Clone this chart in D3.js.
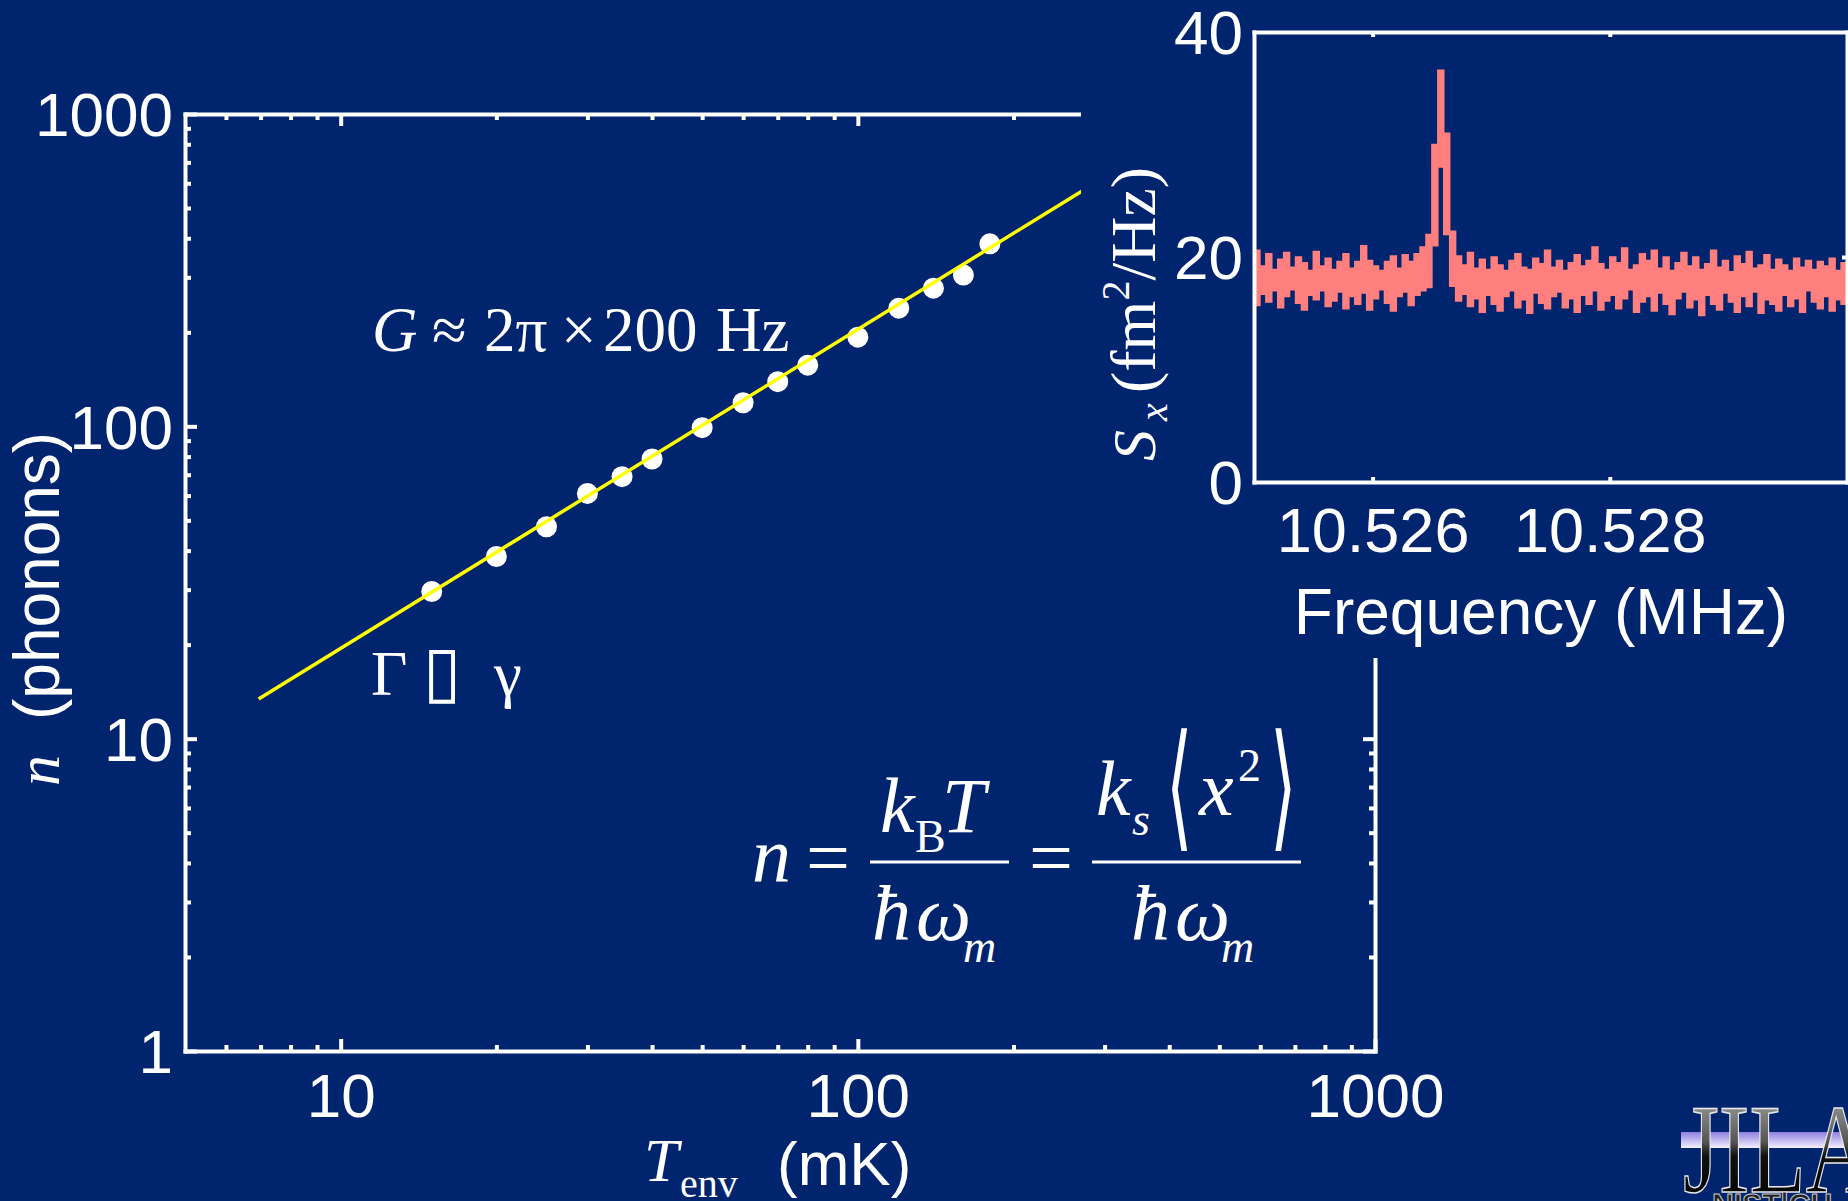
<!DOCTYPE html>
<html><head><meta charset="utf-8">
<script src="https://cdn.jsdelivr.net/npm/d3@7"></script>
<style>
html,body{margin:0;padding:0;background:#00246E;overflow:hidden}
svg{display:block}
</style>
</head><body>
<svg id="chart" width="1848" height="1201"></svg>
<script>
// ---------------- data ----------------
const tempMK   = [15, 20, 25, 30, 35, 40, 50, 60, 70, 80, 100, 120, 140, 160, 180];
const phonons  = [29.6, 38.3, 47.7, 61, 69, 78.6, 99, 119, 139, 157, 193, 239, 277, 305, 384];
const fitTemp    = [6.94, 271.5];
const fitPhonons = [13.4, 567];

const xMajorTicks = [10, 100, 1000];
const xTickLabels = ["10", "100", "1000"];
const xMinorTicks = [6, 7, 8, 9, 20, 30, 40, 50, 60, 70, 80, 90, 200, 300, 400, 500, 600, 700, 800, 900];
const yMajorTicks = [1, 10, 100, 1000];
const yTickLabels = ["1", "10", "100", "1000"];
const yMinorTicks = [2, 3, 4, 5, 6, 7, 8, 9, 20, 30, 40, 50, 60, 70, 80, 90, 200, 300, 400, 500, 600, 700, 800, 900];

// inset spectrum (S_x, fm^2/Hz): upper / lower envelope of the noisy trace per frequency bin
const specFreqStart = 10.525;
const specFreqStep  = 0.00005;
const specUpper = [
 20.6,19.2,20.3,18.9,19.8,20.4,19.1,20.0,19.5,18.8,
 20.5,19.2,19.9,18.9,19.6,20.3,19.0,19.6,21.0,19.7,
 19.2,18.8,19.6,20.1,19.0,20.2,19.6,20.3,20.9,22.0,
 30.0,36.6,31.0,22.3,20.1,19.3,20.4,19.0,19.8,18.9,
 20.0,19.3,18.8,19.7,20.3,19.1,18.9,19.9,19.4,20.6,
 19.1,19.7,18.8,19.5,20.2,19.2,19.7,20.9,19.4,18.9,
 20.0,19.5,20.8,18.9,19.3,20.3,19.7,20.6,19.0,20.0,
 18.8,19.5,20.4,19.2,20.0,18.9,19.4,20.6,19.1,19.7,
 18.7,20.1,19.4,20.5,19.0,19.3,20.2,18.9,19.8,19.3,
 18.8,19.9,19.1,19.7,18.9,19.6,19.2,19.9,18.8,19.5];
const specLower = [
 15.7,16.7,16.0,17.0,15.5,16.5,17.1,15.9,15.3,16.6,
 16.2,17.0,15.6,16.1,16.9,15.4,16.5,15.8,16.8,15.3,
 16.3,17.1,15.9,15.2,16.5,16.9,15.7,16.6,17.0,17.3,
 21.0,28.0,22.0,17.4,16.1,16.7,15.6,16.3,15.1,16.6,
 15.8,15.2,16.5,17.0,15.5,16.2,15.0,16.8,15.9,15.4,
 16.5,16.9,15.5,16.3,15.1,16.6,15.8,17.0,15.3,16.1,
 16.6,15.4,16.3,17.1,15.1,16.0,16.5,15.2,16.8,15.8,
 14.9,16.3,16.9,15.5,16.2,14.8,16.6,15.8,15.3,16.8,
 16.0,15.1,16.5,15.6,16.9,15.0,16.2,15.8,15.2,16.6,
 15.6,16.3,15.1,17.0,16.0,15.4,16.5,15.2,16.2,15.8];
const insetXTicks = [10.526, 10.528];
const insetXTickLabels = ["10.526", "10.528"];
const insetYTicks = [0, 20, 40];
const insetYTickLabels = ["0", "20", "40"];

// ---------------- drawing ----------------
const BG = "#00246E", WHITE = "#FFFFFF", PINK = "#FF7F7F", YELLOW = "#FFFF00";
const SANS = "'Liberation Sans', Arial, sans-serif";
const SERIF = "'Liberation Serif', 'Times New Roman', serif";
const svg = d3.select("#chart");
svg.append("rect").attr("width", 1848).attr("height", 1201).attr("fill", BG);

const x = d3.scaleLog().domain([5, 1000]).range([185, 1375]);
const y = d3.scaleLog().domain([1, 1000]).range([1051, 114]);

function styleAxis(g, showDomain, fs) {
  g.selectAll(".domain").attr("stroke", showDomain ? WHITE : "none").attr("stroke-width", 4)
    .attr("stroke-linecap", "square");
  g.selectAll(".tick line").attr("stroke", WHITE).attr("stroke-width", 4);
  g.selectAll("text").attr("fill", WHITE).attr("font-family", SANS).attr("font-size", fs || 62);
}

const main = svg.append("g");
// minor ticks
[["bottom", 1051], ["top", 114]].forEach(([pos, yy]) => {
  const ax = (pos === "bottom" ? d3.axisBottom(x) : d3.axisTop(x))
    .tickValues(xMinorTicks).tickSize(-6).tickSizeOuter(0).tickFormat("");
  main.append("g").attr("transform", `translate(0,${yy})`).call(ax).call(g => styleAxis(g, false));
});
[["left", 185], ["right", 1375]].forEach(([pos, xx]) => {
  const ax = (pos === "left" ? d3.axisLeft(y) : d3.axisRight(y))
    .tickValues(yMinorTicks).tickSize(-6).tickSizeOuter(0).tickFormat("");
  main.append("g").attr("transform", `translate(${xx},0)`).call(ax).call(g => styleAxis(g, false));
});
// major axes
main.append("g").attr("transform", "translate(0,114)")
  .call(d3.axisTop(x).tickValues(xMajorTicks).tickSize(-12).tickSizeOuter(0).tickFormat(""))
  .call(g => styleAxis(g, true));
main.append("g").attr("transform", "translate(1375,0)")
  .call(d3.axisRight(y).tickValues(yMajorTicks).tickSize(-12).tickSizeOuter(0).tickFormat(""))
  .call(g => styleAxis(g, true));
main.append("g").attr("transform", "translate(0,1051)")
  .call(d3.axisBottom(x).tickValues(xMajorTicks).tickSize(-12).tickSizeOuter(0).tickPadding(22)
    .tickFormat((d, i) => xTickLabels[i]))
  .call(g => styleAxis(g, true));
main.append("g").attr("transform", "translate(185,0)")
  .call(d3.axisLeft(y).tickValues(yMajorTicks).tickSize(-12).tickSizeOuter(0).tickPadding(12)
    .tickFormat((d, i) => yTickLabels[i]))
  .call(g => styleAxis(g, true))
  .call(g => g.selectAll("text").attr("dy", "0.35em"));

// data points, then fit line on top
main.append("g").selectAll("circle").data(tempMK).join("circle")
  .attr("cx", d => x(d)).attr("cy", (d, i) => y(phonons[i])).attr("r", 10.5).attr("fill", WHITE);
main.append("path").datum(fitTemp.map((t, i) => [t, fitPhonons[i]]))
  .attr("d", d3.line().x(d => x(d[0])).y(d => y(d[1])))
  .attr("stroke", YELLOW).attr("stroke-width", 3.5).attr("fill", "none");

// annotations in main plot
const g1 = svg.append("g").attr("fill", WHITE).attr("font-family", SERIF).attr("font-size", 63);
const gl = g1.append("text").attr("y", 351);
gl.append("tspan").attr("x", 372).attr("font-style", "italic").text("G");
gl.append("tspan").attr("x", 432).text("≈");
gl.append("tspan").attr("x", 484).text("2π");
gl.append("tspan").attr("x", 561).text("×");
gl.append("tspan").attr("x", 603).text("200");
gl.append("tspan").attr("x", 716).text("Hz");
const gg = g1.append("text").attr("y", 695);
gg.append("tspan").attr("x", 371).text("Γ");
gg.append("tspan").attr("x", 423).attr("font-family", "'DejaVu Sans'").attr("font-size", 70).text("▯");
gg.append("tspan").attr("x", 494).text("γ");

// formula
const F = svg.append("g").attr("fill", WHITE).attr("font-family", SERIF);
function ft(txt, xx, yy, size, italic) {
  F.append("text").attr("x", xx).attr("y", yy).attr("font-size", size)
    .attr("font-style", italic ? "italic" : "normal").text(txt);
}
ft("n", 752, 882, 78, true);
ft("=", 806, 884, 78, false);
F.append("line").attr("x1", 870).attr("x2", 1009).attr("y1", 862).attr("y2", 862).attr("stroke", WHITE).attr("stroke-width", 3);
ft("k", 880, 832, 78, true);
ft("B", 915, 852, 46, false);
ft("T", 942, 832, 78, true);
ft("ħ", 872, 940, 78, true);
ft("ω", 916, 940, 78, true);
ft("m", 963, 962, 46, true);
ft("=", 1029, 884, 78, false);
F.append("line").attr("x1", 1092).attr("x2", 1301).attr("y1", 862).attr("y2", 862).attr("stroke", WHITE).attr("stroke-width", 3);
ft("k", 1096, 815, 78, true);
ft("s", 1132, 835, 46, true);
// tall thin angle brackets
F.append("text").attr("transform", "translate(1166,833) scale(0.68,1.38)")
  .attr("font-size", 100).attr("font-family", "'DejaVu Sans'").text("⟨");
ft("x", 1199, 815, 78, true);
ft("2", 1238, 781, 46, false);
F.append("text").attr("transform", "translate(1270,833) scale(0.68,1.38)")
  .attr("font-size", 100).attr("font-family", "'DejaVu Sans'").text("⟩");
ft("ħ", 1131, 940, 78, true);
ft("ω", 1175, 940, 78, true);
ft("m", 1221, 962, 46, true);

// axis titles
const xt = svg.append("g").attr("fill", WHITE);
xt.append("text").attr("x", 644).attr("y", 1181).attr("font-family", SERIF).attr("font-size", 62).attr("font-style", "italic").text("T");
xt.append("text").attr("x", 680).attr("y", 1197).attr("font-family", SERIF).attr("font-size", 40).text("env");
xt.append("text").attr("x", 777).attr("y", 1185).attr("font-family", SANS).attr("font-size", 62).text("(mK)");
const yt = svg.append("g").attr("fill", WHITE).attr("transform", "translate(59,0) rotate(-90)");
yt.append("text").attr("x", -786).attr("y", 0).attr("font-family", SERIF).attr("font-size", 62).attr("font-style", "italic").text("n");
yt.append("text").attr("x", -720).attr("y", 0).attr("font-family", SANS).attr("font-size", 64).text("(phonons)");

// ---------------- inset ----------------
svg.append("rect").attr("x", 1081).attr("y", 0).attr("width", 767).attr("height", 658).attr("fill", BG);
const xi = d3.scaleLinear().domain([10.525, 10.530]).range([1254, 1847]);
const yi = d3.scaleLinear().domain([0, 40]).range([482, 32]);
const inset = svg.append("g");

const specPts = specUpper.map((u, i) => ({ f: specFreqStart + i * specFreqStep, u: u, l: specLower[i] }));
specPts.push({ f: specFreqStart + specUpper.length * specFreqStep, u: specUpper[specUpper.length - 1], l: specLower[specLower.length - 1] });
inset.append("path").datum(specPts)
  .attr("d", d3.area().curve(d3.curveStepAfter).x(d => xi(d.f)).y0(d => yi(d.l)).y1(d => yi(d.u)))
  .attr("fill", PINK).attr("stroke", PINK).attr("stroke-width", 1.5);

inset.append("g").attr("transform", "translate(0,32)")
  .call(d3.axisTop(xi).tickValues(insetXTicks).tickSize(-5).tickSizeOuter(0).tickFormat(""))
  .call(g => styleAxis(g, true));
inset.append("g").attr("transform", "translate(1847,0)")
  .call(d3.axisRight(yi).tickValues([20]).tickSize(-5).tickSizeOuter(0).tickFormat(""))
  .call(g => styleAxis(g, true));
inset.append("g").attr("transform", "translate(0,482)")
  .call(d3.axisBottom(xi).tickValues(insetXTicks).tickSize(-5).tickSizeOuter(0).tickPadding(25)
    .tickFormat((d, i) => insetXTickLabels[i]))
  .call(g => styleAxis(g, true, 63));
inset.append("g").attr("transform", "translate(1254,0)")
  .call(d3.axisLeft(yi).tickValues(insetYTicks).tickSize(0).tickSizeOuter(0).tickPadding(11)
    .tickFormat((d, i) => insetYTickLabels[i]))
  .call(g => styleAxis(g, true))
  .call(g => g.selectAll("text").attr("dy", "0.35em"));

inset.append("text").attr("x", 1541).attr("y", 634).attr("text-anchor", "middle")
  .attr("fill", WHITE).attr("font-family", SANS).attr("font-size", 64).text("Frequency (MHz)");

const it = inset.append("g").attr("fill", WHITE).attr("font-family", SERIF).attr("transform", "translate(1155,0) rotate(-90)");
it.append("text").attr("x", -461).attr("y", 0).attr("font-size", 62).attr("font-style", "italic").text("S");
it.append("text").attr("x", -421).attr("y", 12).attr("font-size", 40).attr("font-style", "italic").text("x");
const itl = it.append("text").attr("x", -393).attr("y", 0).attr("font-size", 64);
itl.append("tspan").text("(fm");
itl.append("tspan").attr("font-size", 40).attr("dy", -26).text("2");
itl.append("tspan").attr("dy", 26).text("/Hz)");

// ---------------- logo ----------------
const defs = svg.append("defs");
const lg1 = defs.append("linearGradient").attr("id", "bar").attr("x1", 0).attr("y1", 0).attr("x2", 0).attr("y2", 1);
lg1.append("stop").attr("offset", "0%").attr("stop-color", "#8f7fe0");
lg1.append("stop").attr("offset", "100%").attr("stop-color", "#f4f0ff");
const lg2 = defs.append("linearGradient").attr("id", "metal").attr("x1", 0).attr("y1", 0).attr("x2", 0).attr("y2", 1);
lg2.append("stop").attr("offset", "0%").attr("stop-color", "#b8b8b8");
lg2.append("stop").attr("offset", "45%").attr("stop-color", "#555555");
lg2.append("stop").attr("offset", "55%").attr("stop-color", "#101010");
lg2.append("stop").attr("offset", "100%").attr("stop-color", "#000000");
svg.append("rect").attr("x", 1681).attr("y", 1132).attr("width", 167).attr("height", 16).attr("fill", "url(#bar)");
svg.append("text").attr("transform", "translate(1683,1192) scale(0.72,1)").attr("font-family", SERIF).attr("font-size", 128)
  .attr("fill", "url(#metal)").attr("stroke", "#e8e8e8").attr("stroke-width", 1.5).text("JILA");
svg.append("text").attr("x", 1712).attr("y", 1214).attr("font-family", SANS).attr("font-weight", "bold").attr("font-size", 30)
  .attr("fill", "#222").attr("stroke", "#ccc").attr("stroke-width", 1).text("NIST|CU");
</script>
</body></html>
